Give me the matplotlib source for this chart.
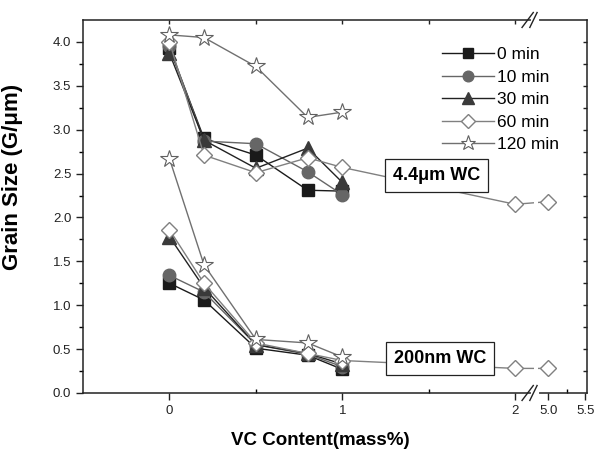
import numpy as np
import matplotlib
matplotlib.use("Agg")
import matplotlib.pyplot as plt
from matplotlib.ticker import FixedLocator

plt.rcParams['font.family'] = ['Liberation Sans', 'DejaVu Sans']

# x values (VC content, mass%)
vc = [0, 0.2, 0.5, 0.8, 1.0]
vc_60 = [0, 0.2, 0.5, 0.8, 1.0, 2.0, 5.0]

# 4.4um WC
big_0 = [3.93, 2.90, 2.71, 2.31, 2.30]
big_10 = [3.95, 2.87, 2.84, 2.52, 2.26]
big_30 = [3.87, 2.88, 2.56, 2.79, 2.40]
big_60 = [4.00, 2.71, 2.51, 2.68, 2.57, 2.15, 2.18]
big_120 = [4.08, 4.05, 3.72, 3.14, 3.20]

# 200nm WC
small_0 = [1.25, 1.06, 0.51, 0.43, 0.27]
small_10 = [1.34, 1.15, 0.55, 0.44, 0.30]
small_30 = [1.78, 1.20, 0.55, 0.45, 0.33]
small_60 = [1.86, 1.25, 0.57, 0.45, 0.37, 0.28, 0.28]
small_120 = [2.67, 1.46, 0.61, 0.57, 0.41]

labels = ['0 min', '10 min', '30 min', '60 min', '120 min']
xticks = [0, 1, 2, 5.0, 5.5]
xtick_labels = ['0', '1', '2', '5.0', '5.5']

# broken x axis: 2.127 .. 4.85 is cut out
b1, b2, k = 2.127, 4.85, 0.428


def fwd(x):
    x = np.asarray(x, dtype=float)
    return np.where(x <= b1, x, np.where(x >= b2, b1 + (x - b2) * k, b1))


def inv(u):
    u = np.asarray(u, dtype=float)
    return np.where(u <= b1, u, b2 + (u - b1) / k)


fig = plt.figure(figsize=(5.99, 4.54), dpi=100)
pos = [0.1386, 0.1344, 0.8414, 0.8216]
ax = fig.add_axes(pos)
ax.set_xscale('function', functions=(fwd, inv))

styles = [
    dict(color='#1a1a1a', marker='s', mfc='#1a1a1a', mec='#1a1a1a', ms=8.5),
    dict(color='#666666', marker='o', mfc='#666666', mec='#666666', ms=9),
    dict(color='#222222', marker='^', mfc='#3a3a3a', mec='#3a3a3a', ms=9.5),
    dict(color='#808080', marker='D', mfc='white', mec='#808080', ms=8, mew=1.0),
    dict(color='#707070', marker='*', mfc='white', mec='#606060', ms=13, mew=0.8),
]

big = [big_0, big_10, big_30, big_60, big_120]
small = [small_0, small_10, small_30, small_60, small_120]
for i, (yb, ys) in enumerate(zip(big, small)):
    xs = vc_60 if i == 3 else vc
    ax.plot(xs, yb, lw=1.0, label=labels[i], zorder=3 + i, **styles[i])
    ax.plot(xs, ys, lw=1.0, zorder=3 + i, **styles[i])

# gap in the lines at the break
ax.axvspan(2.112, 4.86, color='white', zorder=9, lw=0)

xlim = (-0.5, 5.525)
ylim = (0, 4.25)
ax.set_xlim(*xlim)
ax.set_ylim(*ylim)

ax.xaxis.set_major_locator(FixedLocator(xticks))
ax.set_xticklabels(xtick_labels)
ax.xaxis.set_minor_locator(FixedLocator([0.5, 1.5, 5.25]))
ax.set_yticks(np.arange(0, 4.01, 0.5))
ax.set_yticklabels(['%.1f' % v for v in np.arange(0, 4.01, 0.5)])
ax.yaxis.set_minor_locator(FixedLocator(np.arange(0.25, 4.25, 0.5)))
ax.tick_params(axis='both', which='major', direction='out', length=5, width=1,
               labelsize=9.5, colors='#222222')
ax.tick_params(axis='x', which='minor', direction='in', length=3, width=1)
ax.tick_params(axis='y', which='minor', direction='out', length=3, width=1)
ax.tick_params(top=False, right=False)
for s in ax.spines.values():
    s.set_linewidth(1.1)
    s.set_color('#222222')

# mirrored inward ticks on top and right
ax2 = fig.add_axes(pos, frameon=False)
ax2.set_xscale('function', functions=(fwd, inv))
ax2.set_xlim(*xlim)
ax2.set_ylim(*ylim)
ax2.xaxis.tick_top()
ax2.yaxis.tick_right()
ax2.set_xticks([0, 0.5, 1, 1.5, 2])
ax2.set_yticks(np.arange(0.25, 4.25, 0.25))
ax2.xaxis.set_minor_locator(FixedLocator([]))
ax2.yaxis.set_minor_locator(FixedLocator([]))
ax2.tick_params(direction='in', length=3, width=1, labeltop=False, labelright=False,
                labelbottom=False, labelleft=False, colors='#222222')
ax2.patch.set_visible(False)

ax.set_xlabel('VC Content(mass%)', fontsize=13.5, fontweight='bold')
ax.set_ylabel('Grain Size (G/\u03bcm)', fontsize=16, fontweight='bold')
ax.xaxis.set_label_coords(0.47, -0.105)
ax.yaxis.set_label_coords(-0.119, 0.58)

# break marks
tr = ax.get_xaxis_transform()
for yy in (0.0, 1.0):
    ax.plot([2.105, 2.129], [yy, yy], color='white', lw=3, transform=tr,
            clip_on=False, zorder=20)
    for dx in (-0.045, 0.0):
        ax.plot([2.085 + dx, 2.150 + dx], [yy - 0.02, yy + 0.02], color='#222222',
                lw=1.0, transform=tr, clip_on=False, zorder=21)

bbox = dict(boxstyle='square,pad=0.45', fc='white', ec='#222222', lw=0.9)
ax.text(1.546, 2.477, '4.4\u03bcm WC', fontsize=13, fontweight='bold', ha='center',
        va='center', bbox=bbox, zorder=15)
ax.text(1.566, 0.396, '200nm WC', fontsize=13, fontweight='bold', ha='center',
        va='center', bbox=bbox, zorder=15)

leg = ax.legend(loc='upper right', bbox_to_anchor=(0.965, 0.955), frameon=False,
                fontsize=12.5, handlelength=3.0, handletextpad=0.15,
                labelspacing=0.42, numpoints=1, markerscale=0.85,
                borderaxespad=0.2)
leg.set_zorder(30)

fig.savefig('out.png', dpi=100)
